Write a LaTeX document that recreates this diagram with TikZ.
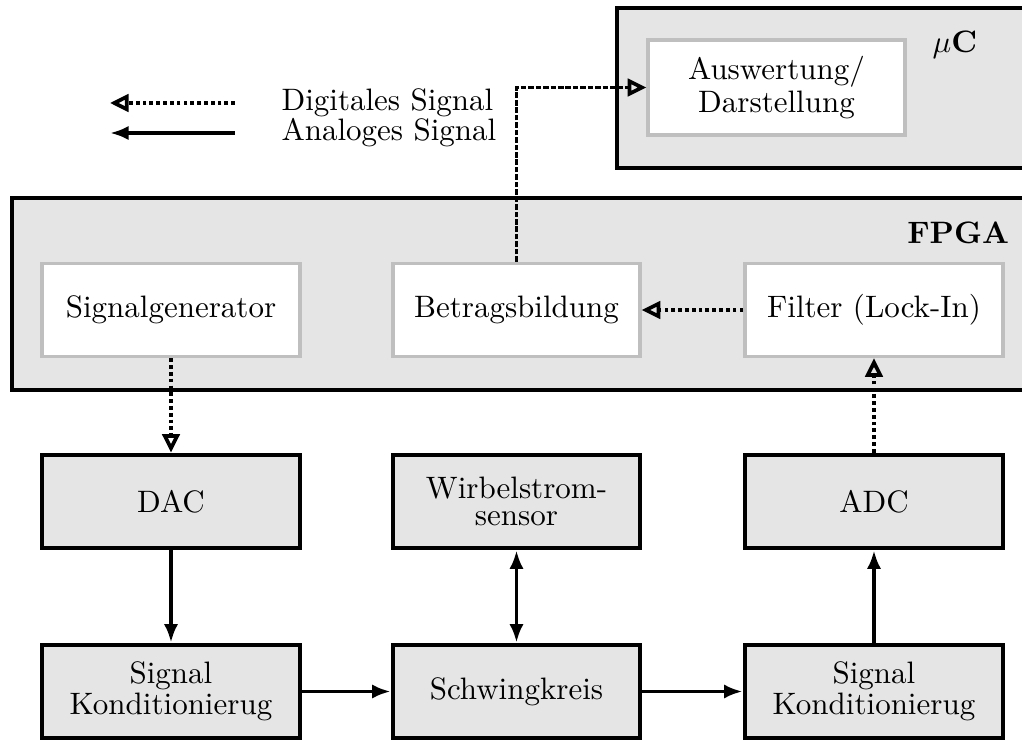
\documentclass[tikz,border=0pt]{standalone}
\usepackage{amsmath}
\usetikzlibrary{arrows.meta}

\begin{document}
\begin{tikzpicture}[x=0.01134cm,y=-0.01134cm,
    txt/.style={font=\fontsize{10}{8.6}\selectfont,align=center},
    inner/.style={txt,draw=black!25,line width=1.1pt,fill=white,minimum height=1.055cm},
    outer/.style={txt,draw,line width=1.5pt,fill=black!10,minimum height=1.055cm},
    group/.style={draw,line width=1.5pt,fill=black!10},
    ana/.style={line width=1.2pt,-{Latex[length=6pt,width=4.6pt]}},
    digi/.style={line width=1.2pt,densely dotted,-{Triangle[open,length=6pt,width=5.6pt,line width=1.2pt]}}]
\useasboundingbox (0,0) rectangle (1022,740);
% Gruppen
\draw[group] (617,8) rectangle (1060,168);
\draw[group] (12,198) rectangle (1060,390);
\node[anchor=east] (uc) at (988,45) {$\mu$\textbf{C}};
\node[anchor=east] (fpga) at (1020,233) {\textbf{FPGA}};
% Bloecke
\node[inner,minimum width=2.914cm,minimum height=1.077cm] (ausw) at (776.5,87.5) {Auswertung/\\Darstellung};
\node[inner,minimum width=2.926cm] (sg) at (171,310) {Signalgenerator};
\node[inner,minimum width=2.80cm] (betrag) at (516.5,310) {Betragsbildung};
\node[inner,minimum width=2.926cm] (filter) at (874,310) {Filter (Lock-In)};
\node[outer,minimum width=2.926cm] (dac) at (171,501.5) {DAC};
\node[outer,minimum width=2.80cm] (sensor) at (516.5,501.5) {Wirbelstrom-\\sensor};
\node[outer,minimum width=2.926cm] (adc) at (874,501.5) {ADC};
\node[outer,minimum width=2.926cm] (kondA) at (171,691.5) {Signal\\Konditionierug};
\node[outer,minimum width=2.80cm] (schwing) at (516.5,691.5) {Schwingkreis};
\node[outer,minimum width=2.926cm] (kondB) at (874,691.5) {Signal\\Konditionierug};
% Legende
\coordinate (dA) at (235,103);
\coordinate (dB) at (110,103);
\coordinate (aA) at (235,133);
\coordinate (aB) at (110,133);
\node[anchor=west,inner sep=0pt] (ldig) at (281,103) {Digitales Signal};
\node[anchor=west,inner sep=0pt] (lana) at (281,133) {Analoges Signal};
\draw[digi] (dA) -- (dB);
\draw[ana] (aA) -- (aB);
% Signale
\draw[digi] (filter) -- (betrag);
\draw[digi,dash pattern=on 1.8pt off 0.6pt] (betrag.north) |- (ausw.west);
\draw[digi] (sg) -- (dac);
\draw[digi] (adc) -- (filter);
\draw[ana] (dac) -- (kondA);
\draw[ana,{Latex[length=6pt,width=4.6pt]}-{Latex[length=6pt,width=4.6pt]}] (sensor) -- (schwing);
\draw[ana] (kondA) -- (schwing);
\draw[ana] (schwing) -- (kondB);
\draw[ana] (kondB) -- (adc);
\end{tikzpicture}
\end{document}
